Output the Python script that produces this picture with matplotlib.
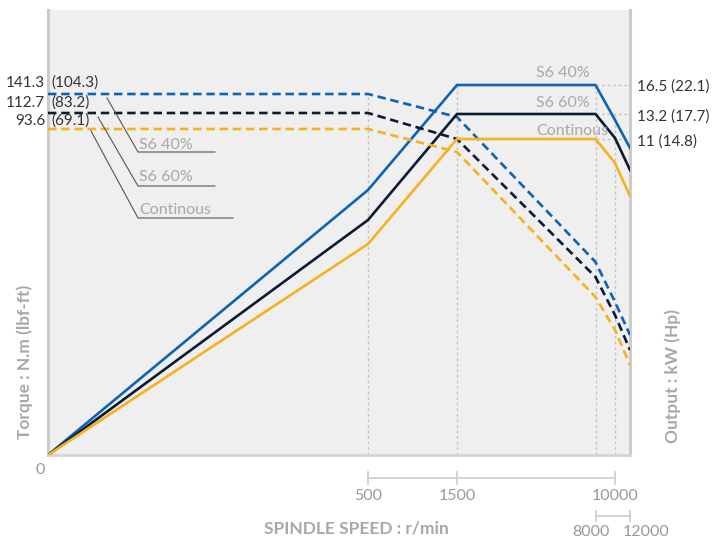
import numpy as np
import matplotlib
matplotlib.use("Agg")
import matplotlib.pyplot as plt
import matplotlib.transforms as mtransforms

plt.rcParams['font.family'] = ['Lato', 'DejaVu Sans']

W, H = 722, 540

# spindle speed (r/min) and curve heights (chart units, schematic chart)
speed = [0, 500, 1500, 8000, 10000, 12000]
out_s6_40 = [0, 265, 370, 370, 335, 307]
out_s6_60 = [0, 235, 341, 341, 317, 285]
out_cont = [0, 211, 316, 316, 292, 259]
trq_s6_40 = [361, 361, 338, 193, 153, 120]
trq_s6_60 = [342, 342, 316, 178, 140, 105]
trq_cont = [326, 326, 303, 158, 125, 90]

series = ["S6 40%", "S6 60%", "Continous"]
torque_labels = ["141.3", "112.7", "93.6"]
torque_lbf = ["(104.3)", "(83.2)", "(69.1)"]
output_labels = ["16.5 (22.1)", "13.2 (17.7)", "11 (14.8)"]
colors = ["#0e63b2", "#0c1a33", "#f6b21d"]

# broken speed axis: knots of the drawing scale
knot_speed = [0, 500, 1500, 8000, 10000, 12000]
knot_pos = [0, 320, 409, 547.5, 567, 582]

def fwd(x):
    return np.interp(x, knot_speed, knot_pos)

def inv(x):
    return np.interp(x, knot_pos, knot_speed)

fig = plt.figure(figsize=(W / 100, H / 100), dpi=100)
ax = fig.add_axes([48 / W, (H - 455) / H, (630 - 48) / W, 445 / H])
ax.set_xscale('function', functions=(fwd, inv))
ax.set_xlim(0, 12000)
ax.set_ylim(0, 445)
ax.set_facecolor("#efefef")
ax.set_xticks([])
ax.set_yticks([])
ax.spines['top'].set_visible(False)
for s in ['left', 'right']:
    ax.spines[s].set_color("#cbcbcb")
    ax.spines[s].set_linewidth(2.2)
ax.spines['bottom'].set_color("#d4d4d4")
ax.spines['bottom'].set_linewidth(2)

# guide lines
grid_kw = dict(color="#c4c4c4", lw=1, linestyle=(0, (2, 2)), zorder=1)
for sp, top in zip([500, 1500, 8000, 10000], [trq_s6_40[1], out_s6_40[2], out_s6_40[3], out_s6_60[3]]):
    ax.plot([sp, sp], [0, top], **grid_kw)
for lvl in [out_s6_40[3], out_s6_60[3], out_cont[3]]:
    ax.plot([8000, 12000], [lvl, lvl], **grid_kw)

outs = [out_s6_40, out_s6_60, out_cont]
trqs = [trq_s6_40, trq_s6_60, trq_cont]
for o, t, c in zip(outs, trqs, colors):
    ax.plot(speed, o, color=c, lw=1.9, zorder=3, solid_joinstyle='miter')
    ax.plot(speed, t, color=c, lw=1.9, dashes=(3.2, 1.8), zorder=3)

# pixel coordinates from top-left for annotations
tl = mtransforms.Affine2D().scale(1 / W, -1 / H).translate(0, 1) + fig.transFigure

dark = "#333333"
gray = "#a8a8a8"
tick_gray = "#999999"

for lab, lbf, y in zip(torque_labels, torque_lbf, [83, 103, 121]):
    fig.text(45, y, lab, transform=tl, ha='right', va='center', fontsize=11, color=dark)
    fig.text(51, y, lbf, transform=tl, ha='left', va='center', fontsize=11, color=dark)

# leader lines to series names
leaders = [((107, 98), (138, 152), 215, 145),
           ((98, 117), (138, 186), 215, 177),
           ((91, 131), (138, 218), 233, 210)]
for name, (p0, p1, xend, ty) in zip(series, leaders):
    ax.plot([p0[0], p1[0], xend], [p0[1], p1[1], p1[1]], transform=tl,
            color="#555555", lw=0.8, clip_on=False, zorder=4)
    fig.text(139, ty, name, transform=tl, ha='left', va='center', fontsize=11.5, color=gray)

for name, y in zip(series, [73, 103, 131]):
    fig.text(536, y, name, transform=tl, ha='left', va='center', fontsize=11.5, color=gray)

for lab, y in zip(output_labels, [87, 117, 142]):
    fig.text(637, y, lab, transform=tl, ha='left', va='center', fontsize=11, color=dark)

# speed brackets under the axis
xt = ax.get_xaxis_transform()
def yf(py):
    return (455 - py) / 445

br_kw = dict(color="#d0d0d0", lw=1.3, clip_on=False, transform=xt)
ax.plot([500, 10000], [yf(478), yf(478)], **br_kw)
for sp in [500, 1500, 10000]:
    ax.plot([sp, sp], [yf(472), yf(484)], **br_kw)
ax.plot([8000, 12000], [yf(516), yf(516)], **br_kw)
for sp in [8000, 12000]:
    ax.plot([sp, sp], [yf(511), yf(521)], **br_kw)

for sp in [500, 1500, 10000]:
    ax.text(sp, yf(496), str(sp), transform=xt, ha='center', va='center', fontsize=11.5, color=tick_gray)
ax.annotate("8000", xy=(8000, yf(532)), xycoords=xt, xytext=(-5, 0), textcoords='offset pixels',
            ha='center', va='center', fontsize=11.5, color=tick_gray)
ax.annotate("12000", xy=(12000, yf(532)), xycoords=xt, xytext=(16, 0), textcoords='offset pixels',
            ha='center', va='center', fontsize=11.5, color=tick_gray)
fig.text(40, 470, "0", transform=tl, ha='center', va='center', fontsize=11.5, color=tick_gray)

fig.text(25, 362, "Torque : N.m (lbf-ft)", transform=tl, rotation=90, ha='center', va='center',
         fontsize=12.5, fontweight='bold', color=gray)
fig.text(673, 376, "Output : kW (Hp)", transform=tl, rotation=90, ha='center', va='center',
         fontsize=12.5, fontweight='bold', color=gray)
fig.text(356, 529, "SPINDLE SPEED : r/min", transform=tl, ha='center', va='center',
         fontsize=12.5, fontweight='bold', color=gray)

fig.savefig("out.png", dpi=100)
